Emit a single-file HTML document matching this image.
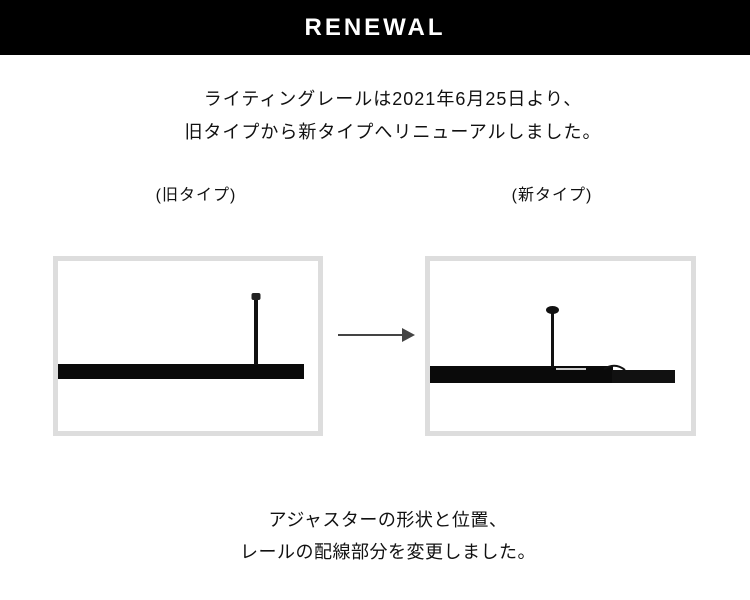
<!DOCTYPE html>
<html><head><meta charset="utf-8"><style>
body{margin:0;width:750px;height:600px;background:#fff;position:relative;overflow:hidden;font-family:"Liberation Sans","Noto Sans CJK JP",sans-serif;color:#111}
.hdr{position:absolute;left:0;top:0;width:750px;height:55px;background:#000;color:#fff;font-weight:bold;font-size:24px;letter-spacing:3px;text-align:center;line-height:55px}
.t{position:absolute;left:0;width:750px;text-align:center;font-size:18px;letter-spacing:1px}
.box{position:absolute;top:256px;width:260px;height:170px;border:5px solid #ddd;background:#fff}
</style></head><body>
<div class="hdr">RENEWAL</div>
<div class="t" style="top:85px;left:18px">ライティングレールは2021年6月25日より、</div>
<div class="t" style="top:118px;left:18px">旧タイプから新タイプへリニューアルしました。</div>
<div class="t" style="top:181px;left:126px;width:140px;font-size:16px;letter-spacing:1px">(旧タイプ)</div>
<div class="t" style="top:181px;left:482px;width:140px;font-size:16px;letter-spacing:1px">(新タイプ)</div>
<div class="box" style="left:53px"></div>
<div class="box" style="left:425px;width:261px"></div>
<svg style="position:absolute;left:0;top:0" width="750" height="600">
<rect x="58" y="364" width="246" height="15" fill="#0a0a0a"/>
<rect x="254" y="298" width="4" height="67" fill="#111"/>
<rect x="251.5" y="293" width="9" height="7" rx="2" fill="#222"/>
<line x1="338" y1="335" x2="403" y2="335" stroke="#444" stroke-width="2"/>
<polygon points="402,328 415,335 402,342" fill="#444"/>
<rect x="430" y="366" width="183" height="17" fill="#0a0a0a"/>
<rect x="612" y="370" width="63" height="13" fill="#111"/>
<path d="M604 369 Q615 362 625 370" stroke="#111" stroke-width="2" fill="none"/>
<rect x="551" y="312" width="3" height="56" fill="#111"/>
<ellipse cx="552.5" cy="310" rx="6.5" ry="4" fill="#111"/>
<rect x="556" y="368" width="30" height="2" fill="#ccc"/>
</svg>
<div class="t" style="top:506px;left:13px;letter-spacing:0.5px">アジャスターの形状と位置、</div>
<div class="t" style="top:538px;left:13px;letter-spacing:0.5px">レールの配線部分を変更しました。</div>
</body></html>
